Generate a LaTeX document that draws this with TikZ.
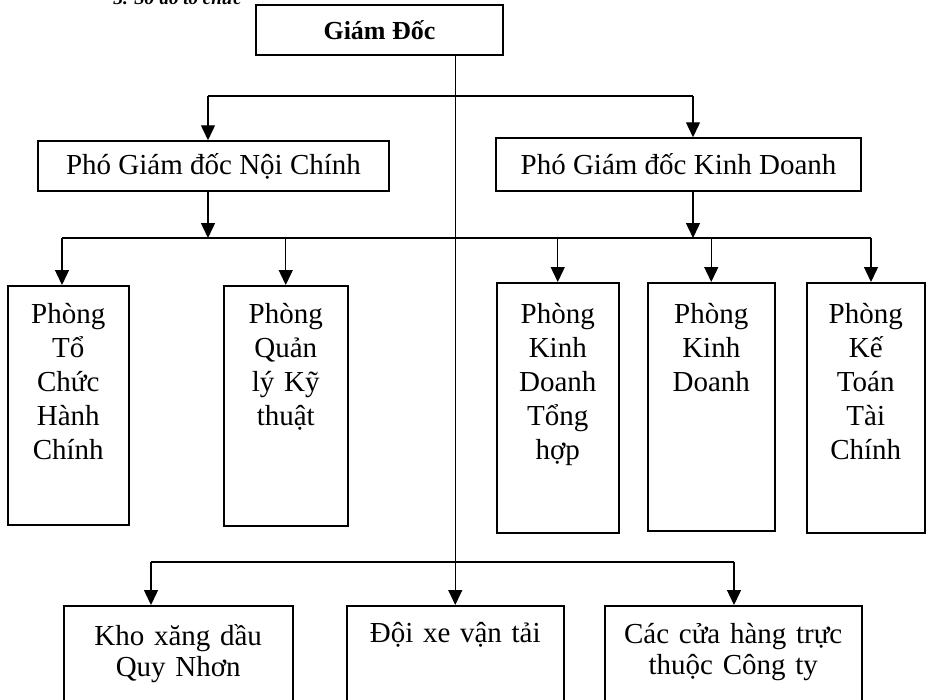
\documentclass[tikz,border=0pt]{standalone}
\usepackage{fontspec}
\setmainfont{Liberation Serif}
\usetikzlibrary{arrows.meta}
\begin{document}
\begin{tikzpicture}[x=1pt,y=-1pt,
  box/.style={draw, line width=1.5pt, inner sep=0pt, font=\fontsize{29}{34}\selectfont},
  tallbox/.style={box, anchor=north west, align=center},
  lowbox/.style={box, anchor=north west, align=center, font=\fontsize{29}{31}\selectfont},
  conn/.style={line width=1.4pt},
  arr/.style={conn, -{Triangle[length=15pt,width=14pt]}},
  mainarr/.style={line width=1pt, -{Triangle[length=15pt,width=14pt]}},
]
\useasboundingbox (0,0) rectangle (928,699);

\node[anchor=base west, font=\fontsize{19}{22}\selectfont\bfseries\itshape] (title) at (110,4) {3. Sơ đồ tổ chức};

\node[box, minimum width=247pt, minimum height=50pt, font=\fontsize{26}{30}\selectfont\bfseries] (gd) at (379.5,30) {Giám Đốc};

\node[box, minimum width=351pt, minimum height=50pt] (pnc) at (213.5,166) {Phó Giám đốc Nội Chính};
\node[box, minimum width=365pt, minimum height=53pt] (pkd) at (678.5,164.5) {Phó Giám đốc Kinh Doanh};

\node[tallbox, text width=121pt, text height=38pt, text depth=201pt] (b1) at (7,285) {Phòng\\Tổ\\Chức\\Hành\\Chính};
\node[tallbox, text width=124pt, text height=38pt, text depth=202pt] (b2) at (223,285) {Phòng\\Quản\\lý Kỹ\\thuật};
\node[tallbox, text width=122pt, text height=41pt, text depth=209pt] (b3) at (496,282) {Phòng\\Kinh\\Doanh\\Tổng\\hợp};
\node[tallbox, text width=127pt, text height=41pt, text depth=207pt] (b4) at (647,282) {Phòng\\Kinh\\Doanh};
\node[tallbox, text width=118pt, text height=41pt, text depth=209pt] (b5) at (806,282) {Phòng\\Kế\\Toán\\Tài\\Chính};

\node[lowbox, text width=229pt, text height=40pt, text depth=70pt] (kho) at (63,605) {Kho xăng dầu\\Quy Nhơn};
\node[lowbox, text width=217pt, text height=37pt, text depth=73pt] (doi) at (346,605) {Đội xe vận tải};
\node[lowbox, text width=257pt, text height=38pt, text depth=72pt] (cac) at (604,605) {Các cửa hàng trực\\thuộc Công ty};

% main vertical line
\draw[mainarr] (gd.south -| doi.north) -- (doi.north);

% top bus
\coordinate (tL) at (208,96);
\coordinate (tR) at (693,96);
\draw[conn] (tL) -- (tR);
\draw[arr] (tL) -- (tL |- pnc.north);
\draw[arr] (tR) -- (tR |- pkd.north);

% middle bus
\coordinate (mL) at (62,238);
\coordinate (mR) at (871,238);
\draw[arr] (pnc.south -| tL) -- (tL |- mL);
\draw[arr] (pkd.south -| tR) -- (tR |- mL);
\draw[conn] (mL) -- (mR);
\draw[arr] (mL) -- (mL |- b1.north);
\draw[arr] (b2.north |- mL) -- (b2.north);
\draw[arr] (b3.north |- mL) -- (b3.north);
\draw[arr] (b4.north |- mL) -- (b4.north);
\draw[arr] (mR) -- (mR |- b5.north);

% bottom bus
\coordinate (bL) at (151,562);
\coordinate (bR) at (734,562);
\draw[conn] (bL) -- (bR);
\draw[arr] (bL) -- (bL |- kho.north);
\draw[arr] (bR) -- (bR |- cac.north);
\end{tikzpicture}
\end{document}
